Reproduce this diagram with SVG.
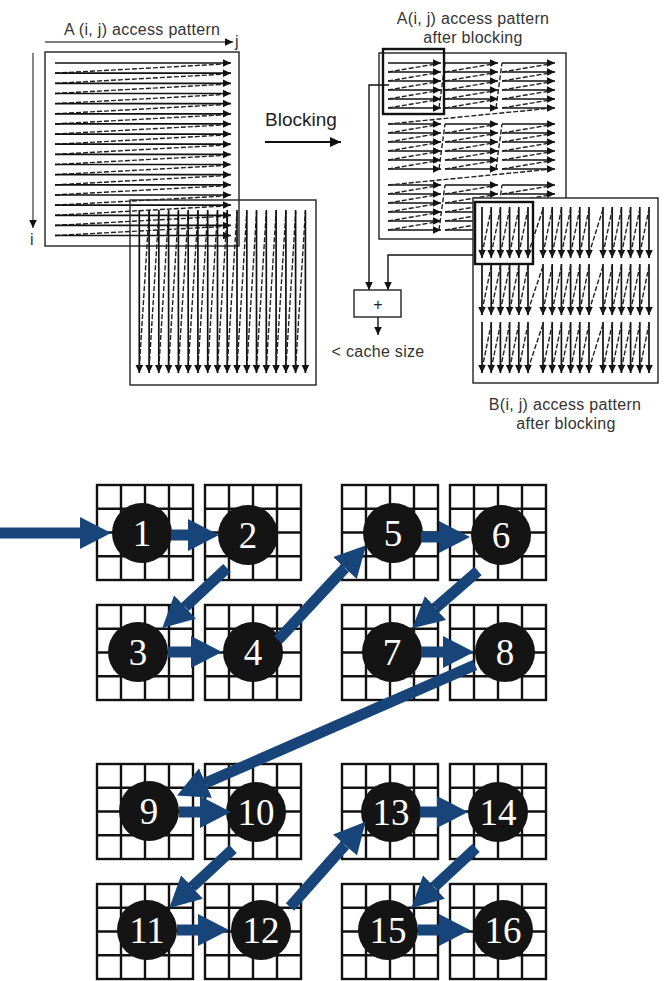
<svg xmlns="http://www.w3.org/2000/svg" xmlns:xlink="http://www.w3.org/1999/xlink" width="671" height="981" viewBox="0 0 671 981">
<style>
.lbl{font-family:"Liberation Sans",Arial,sans-serif;font-size:16px;fill:#333;letter-spacing:0.3px}
.sl{stroke:#111;stroke-width:1.7;fill:none}
.dl{stroke:#222;stroke-width:1.4;stroke-dasharray:5 2;fill:none}
.box{fill:none;stroke:#222;stroke-width:1.4}
.hl{fill:none;stroke:#111;stroke-width:2.4}
.gr{fill:#fff;stroke:#111;stroke-width:2.4}
.nd{fill:#141414}
.num{font-family:"Liberation Serif","Times New Roman",serif;font-size:37px;fill:#fff;text-anchor:middle}
.con{stroke:#17457a;stroke-width:11;fill:none;marker-end:url(#bh)}
</style>
<defs>
<marker id="sa" markerUnits="userSpaceOnUse" markerWidth="10" markerHeight="10" refX="8.5" refY="4" orient="auto"><path d="M0,0 L8.5,4 L0,8 z" fill="#111"/></marker>
<marker id="la" markerUnits="userSpaceOnUse" markerWidth="12" markerHeight="12" refX="11" refY="5" orient="auto"><path d="M0,0 L11,5 L0,10 z" fill="#111"/></marker>
<marker id="bh" markerUnits="userSpaceOnUse" markerWidth="32" markerHeight="34" refX="0" refY="16" orient="auto"><path d="M0,0 L31,16 L0,32 z" fill="#17457a"/></marker>
<g id="hr"><line class="sl" x1="55" y1="0" x2="231" y2="0" marker-end="url(#sa)"/><line class="dl" x1="55" y1="10.15" x2="224" y2="1"/></g>
<g id="vr"><line class="sl" x1="0" y1="210" x2="0" y2="373" marker-end="url(#sa)"/><line class="dl" x1="0" y1="368" x2="9.77" y2="212"/></g>
<g id="ab">
<line class="sl" x1="0" y1="0" x2="53" y2="0" marker-end="url(#sa)"/>
<line class="sl" x1="0" y1="9" x2="53" y2="9" marker-end="url(#sa)"/>
<line class="sl" x1="0" y1="18" x2="53" y2="18" marker-end="url(#sa)"/>
<line class="sl" x1="0" y1="27" x2="53" y2="27" marker-end="url(#sa)"/>
<line class="sl" x1="0" y1="36" x2="53" y2="36" marker-end="url(#sa)"/>
<line class="sl" x1="0" y1="45" x2="53" y2="45" marker-end="url(#sa)"/>
<path class="dl" d="M0,9 L48,1 M0,18 L48,10 M0,27 L48,19 M0,36 L48,28 M0,45 L48,37"/>
</g>
<g id="bb">
<line class="sl" x1="0" y1="0" x2="0" y2="51" marker-end="url(#sa)"/>
<line class="sl" x1="9.2" y1="0" x2="9.2" y2="51" marker-end="url(#sa)"/>
<line class="sl" x1="18.4" y1="0" x2="18.4" y2="51" marker-end="url(#sa)"/>
<line class="sl" x1="27.6" y1="0" x2="27.6" y2="51" marker-end="url(#sa)"/>
<line class="sl" x1="36.8" y1="0" x2="36.8" y2="51" marker-end="url(#sa)"/>
<line class="sl" x1="46" y1="0" x2="46" y2="51" marker-end="url(#sa)"/>
<path class="dl" d="M0,47 L9.2,2 M9.2,47 L18.4,2 M18.4,47 L27.6,2 M27.6,47 L36.8,2 M36.8,47 L46,2"/>
</g>
<g id="grid">
<rect class="gr" x="0" y="0" width="96" height="95"/>
<path d="M24,0V95M48,0V95M72,0V95M0,23.75H96M0,47.5H96M0,71.25H96" stroke="#111" stroke-width="2.4"/>
</g>
</defs>

<g id="original-access">
<text class="lbl" x="64" y="35">A (i, j) access pattern</text>
<line x1="45" y1="42" x2="233" y2="42" stroke="#555" stroke-width="1.4" marker-end="url(#sa)"/>
<text class="lbl" x="235" y="47" font-size="13">j</text>
<line x1="33" y1="53" x2="33" y2="228" stroke="#555" stroke-width="1.4" marker-end="url(#sa)"/>
<text class="lbl" x="30" y="245" font-size="13">i</text>
<rect class="box" x="45" y="52" width="194" height="194"/>
<use xlink:href="#hr" y="63"/>
<use xlink:href="#hr" y="73.2"/>
<use xlink:href="#hr" y="83.3"/>
<use xlink:href="#hr" y="93.5"/>
<use xlink:href="#hr" y="103.6"/>
<use xlink:href="#hr" y="113.8"/>
<use xlink:href="#hr" y="123.9"/>
<use xlink:href="#hr" y="134.1"/>
<use xlink:href="#hr" y="144.2"/>
<use xlink:href="#hr" y="154.4"/>
<use xlink:href="#hr" y="164.5"/>
<use xlink:href="#hr" y="174.7"/>
<use xlink:href="#hr" y="184.8"/>
<use xlink:href="#hr" y="195"/>
<use xlink:href="#hr" y="205.1"/>
<use xlink:href="#hr" y="215.3"/>
<use xlink:href="#hr" y="225.4"/>
<line class="sl" x1="55" y1="235.5" x2="231" y2="235.5" marker-end="url(#sa)"/>
<rect class="box" x="130" y="200" width="186" height="185"/>
<use xlink:href="#vr" x="139.3"/>
<use xlink:href="#vr" x="149.1"/>
<use xlink:href="#vr" x="158.8"/>
<use xlink:href="#vr" x="168.6"/>
<use xlink:href="#vr" x="178.4"/>
<use xlink:href="#vr" x="188.2"/>
<use xlink:href="#vr" x="197.9"/>
<use xlink:href="#vr" x="207.7"/>
<use xlink:href="#vr" x="217.5"/>
<use xlink:href="#vr" x="227.2"/>
<use xlink:href="#vr" x="237"/>
<use xlink:href="#vr" x="246.8"/>
<use xlink:href="#vr" x="256.5"/>
<use xlink:href="#vr" x="266.3"/>
<use xlink:href="#vr" x="276.1"/>
<use xlink:href="#vr" x="285.9"/>
<use xlink:href="#vr" x="295.6"/>
<line class="sl" x1="305.4" y1="210" x2="305.4" y2="373" marker-end="url(#sa)"/>
</g>

<g id="blocking-arrow">
<text x="265" y="126" font-family="Liberation Sans, Arial, sans-serif" font-size="19" fill="#222">Blocking</text>
<line x1="265" y1="142" x2="341" y2="142" stroke="#111" stroke-width="1.8" marker-end="url(#la)"/>
</g>

<g id="blocked-A">
<text class="lbl" x="473" y="24" text-anchor="middle">A(i, j) access pattern</text>
<text class="lbl" x="473" y="43" text-anchor="middle">after blocking</text>
<rect class="box" x="379" y="53" width="187" height="186"/>
<use xlink:href="#ab" x="388" y="63"/>
<use xlink:href="#ab" x="445" y="63"/>
<use xlink:href="#ab" x="502" y="63"/>
<use xlink:href="#ab" x="388" y="124"/>
<use xlink:href="#ab" x="445" y="124"/>
<use xlink:href="#ab" x="502" y="124"/>
<use xlink:href="#ab" x="388" y="185"/>
<use xlink:href="#ab" x="445" y="185"/>
<use xlink:href="#ab" x="502" y="185"/>
<path class="dl" d="M439,108 L445,63 M496,108 L502,63 M553,108 L388,124 M439,169 L445,124 M496,169 L502,124 M553,169 L388,185 M439,230 L445,185 M496,230 L502,185"/>
<rect class="hl" x="383" y="49" width="61" height="65"/>
</g>

<g id="blocked-B">
<rect x="473" y="198" width="185" height="185" fill="#fff" stroke="#222" stroke-width="1.4"/>
<use xlink:href="#bb" x="482" y="207"/>
<use xlink:href="#bb" x="543" y="207"/>
<use xlink:href="#bb" x="603" y="207"/>
<use xlink:href="#bb" x="482" y="264"/>
<use xlink:href="#bb" x="543" y="264"/>
<use xlink:href="#bb" x="603" y="264"/>
<use xlink:href="#bb" x="482" y="322"/>
<use xlink:href="#bb" x="543" y="322"/>
<use xlink:href="#bb" x="603" y="322"/>
<path class="dl" d="M528,254 L543,209 M589,254 L603,209 M528,311 L543,266 M589,311 L603,266 M528,369 L543,324 M589,369 L603,324"/>
<rect class="hl" x="475" y="202" width="58" height="62"/>
<text class="lbl" x="565" y="410" text-anchor="middle">B(i, j) access pattern</text>
<text class="lbl" x="566" y="429" text-anchor="middle">after blocking</text>
</g>

<g id="cache-sum">
<polyline points="389,85 369,85 369,290" fill="none" stroke="#111" stroke-width="1.4" marker-end="url(#sa)"/>
<polyline points="473,255 388,255 388,290" fill="none" stroke="#111" stroke-width="1.4" marker-end="url(#sa)"/>
<rect x="354" y="290" width="47" height="27" fill="#fff" stroke="#222" stroke-width="1.4"/>
<text x="378" y="310" text-anchor="middle" font-family="Liberation Sans, Arial, sans-serif" font-size="16" fill="#222">+</text>
<line x1="378" y1="317" x2="378" y2="335" stroke="#111" stroke-width="1.4" marker-end="url(#sa)"/>
<text class="lbl" x="378" y="357" text-anchor="middle">&lt; cache size</text>
</g>

<g id="node1"><use xlink:href="#grid" x="97" y="485"/><circle class="nd" cx="142" cy="533" r="30"/><text class="num" x="142" y="546">1</text></g>
<g id="node2"><use xlink:href="#grid" x="205" y="485"/><circle class="nd" cx="248" cy="535" r="30"/><text class="num" x="248" y="548">2</text></g>
<g id="node3"><use xlink:href="#grid" x="97" y="605"/><circle class="nd" cx="138" cy="652" r="30"/><text class="num" x="138" y="665">3</text></g>
<g id="node4"><use xlink:href="#grid" x="205" y="605"/><circle class="nd" cx="253" cy="652" r="30"/><text class="num" x="253" y="665">4</text></g>
<g id="node5"><use xlink:href="#grid" x="342" y="485"/><circle class="nd" cx="393" cy="533" r="30"/><text class="num" x="393" y="546">5</text></g>
<g id="node6"><use xlink:href="#grid" x="450" y="485"/><circle class="nd" cx="501" cy="535" r="30"/><text class="num" x="501" y="548">6</text></g>
<g id="node7"><use xlink:href="#grid" x="342" y="605"/><circle class="nd" cx="392" cy="652" r="30"/><text class="num" x="392" y="665">7</text></g>
<g id="node8"><use xlink:href="#grid" x="450" y="605"/><circle class="nd" cx="505" cy="652" r="30"/><text class="num" x="505" y="665">8</text></g>
<g id="node9"><use xlink:href="#grid" x="97" y="764"/><circle class="nd" cx="149" cy="811" r="30"/><text class="num" x="149" y="824">9</text></g>
<g id="node10"><use xlink:href="#grid" x="205" y="764"/><circle class="nd" cx="256" cy="812" r="30"/><text class="num" x="256" y="825">10</text></g>
<g id="node11"><use xlink:href="#grid" x="97" y="884"/><circle class="nd" cx="147" cy="930" r="30"/><text class="num" x="147" y="943">11</text></g>
<g id="node12"><use xlink:href="#grid" x="205" y="884"/><circle class="nd" cx="261" cy="930" r="30"/><text class="num" x="261" y="943">12</text></g>
<g id="node13"><use xlink:href="#grid" x="342" y="764"/><circle class="nd" cx="391" cy="812" r="30"/><text class="num" x="391" y="825">13</text></g>
<g id="node14"><use xlink:href="#grid" x="450" y="764"/><circle class="nd" cx="498" cy="812" r="30"/><text class="num" x="498" y="825">14</text></g>
<g id="node15"><use xlink:href="#grid" x="342" y="884"/><circle class="nd" cx="388" cy="930" r="30"/><text class="num" x="388" y="943">15</text></g>
<g id="node16"><use xlink:href="#grid" x="450" y="884"/><circle class="nd" cx="503" cy="930" r="30"/><text class="num" x="503" y="943">16</text></g>

<g id="connectors">
<line class="con" x1="0" y1="533" x2="80" y2="533"/>
<line class="con" x1="171" y1="535" x2="188" y2="535"/>
<line class="con" x1="227" y1="568" x2="185" y2="607"/>
<line class="con" x1="168" y1="652" x2="191" y2="652"/>
<line class="con" x1="278" y1="640" x2="345" y2="568"/>
<line class="con" x1="421" y1="537" x2="439" y2="537"/>
<line class="con" x1="478" y1="571" x2="435.5" y2="608"/>
<line class="con" x1="421" y1="652" x2="443" y2="652"/>
<line class="con" x1="475" y1="665" x2="205.5" y2="783"/>
<line class="con" x1="179" y1="812" x2="200" y2="812"/>
<line class="con" x1="233" y1="849" x2="192" y2="887"/>
<line class="con" x1="177" y1="930" x2="198" y2="930"/>
<line class="con" x1="290" y1="907" x2="345" y2="845"/>
<line class="con" x1="420" y1="812" x2="437" y2="812"/>
<line class="con" x1="476" y1="848" x2="434" y2="887"/>
<line class="con" x1="418" y1="930" x2="439" y2="930"/>
</g>
</svg>
